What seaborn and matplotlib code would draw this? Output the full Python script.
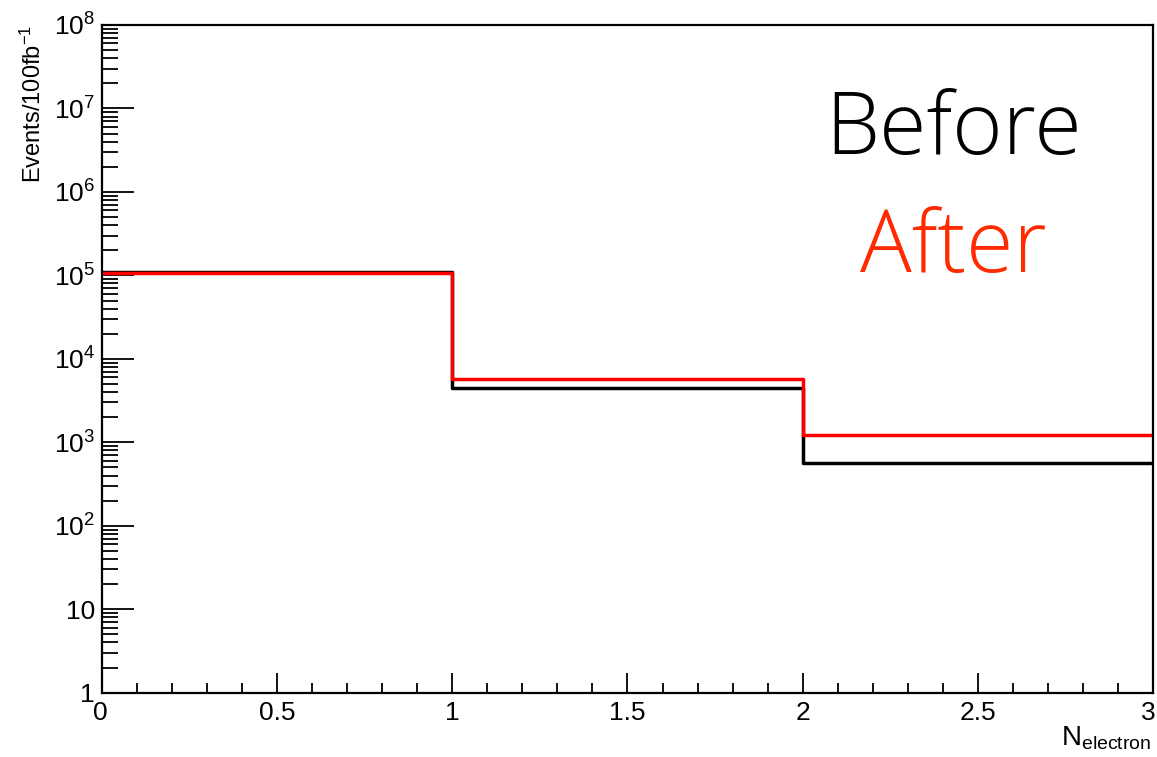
import numpy as np
import pandas as pd
import matplotlib
matplotlib.use("Agg")
import matplotlib.pyplot as plt
import matplotlib.ticker as mticker
import matplotlib.transforms as mtransforms
import seaborn as sns

# Data
bin_edges = [0, 1, 2, 3]
before_counts = [1.10e5, 4.5e3, 5.6e2]
after_counts = [1.07e5, 5.7e3, 1.22e3]
legend_labels = ["Before", "After"]

sns.set_theme(style="white")
plt.rcParams['font.family'] = ['Liberation Sans', 'DejaVu Sans']
plt.rcParams['mathtext.fontset'] = 'custom'
plt.rcParams['mathtext.rm'] = 'Liberation Sans'
plt.rcParams['mathtext.it'] = 'Liberation Sans'
plt.rcParams['text.color'] = 'black'
plt.rcParams['xtick.color'] = 'black'
plt.rcParams['ytick.color'] = 'black'

fig = plt.figure(figsize=(11.57, 7.57), dpi=100)
ax = fig.add_axes([0.0882, 0.0849, 0.9083, 0.8821])
ax.set_yscale('log')

def step_df(counts, name):
    return pd.DataFrame({"x": bin_edges,
                         "y": list(counts) + [counts[-1]],
                         "series": name})

df = pd.concat([step_df(before_counts, legend_labels[0]),
                step_df(after_counts, legend_labels[1])], ignore_index=True)

sns.lineplot(data=df, x="x", y="y", hue="series",
             palette={legend_labels[0]: "black", legend_labels[1]: "#ff0000"},
             drawstyle="steps-post", linewidth=2.5, legend=False, ax=ax,
             estimator=None, sort=False)

ax.set_xlim(0, 3)
ax.set_ylim(1, 1e8)

# Frame
for s in ax.spines.values():
    s.set_visible(True)
    s.set_color("black")
    s.set_linewidth(1.6)

# Ticks
ax.xaxis.set_major_locator(mticker.FixedLocator([0, 0.5, 1, 1.5, 2, 2.5, 3]))
ax.xaxis.set_minor_locator(mticker.MultipleLocator(0.1))
ax.yaxis.set_major_locator(mticker.LogLocator(base=10, numticks=20))
ax.yaxis.set_minor_locator(mticker.LogLocator(base=10, subs=np.arange(2, 10), numticks=20))

def yfmt(v, pos):
    if v <= 1.5:
        return "1"
    if v <= 15:
        return "10"
    e = int(round(np.log10(v)))
    return r"$\mathregular{10^{%d}}$" % e

def xfmt(v, pos):
    return ("%g" % v)

ax.yaxis.set_major_formatter(mticker.FuncFormatter(yfmt))
ax.xaxis.set_major_formatter(mticker.FuncFormatter(xfmt))

ax.tick_params(axis='y', which='major', direction='in', length=23, width=1.3,
               labelsize=19, pad=5, left=True, right=False, color='black',
               labelcolor='black')
ax.tick_params(axis='y', which='minor', direction='in', length=11.5, width=1.3,
               left=True, right=False, color='black')
ax.tick_params(axis='x', which='major', direction='in', length=14.4, width=1.3,
               labelsize=19, pad=6, bottom=True, top=False, color='black',
               labelcolor='black')
ax.tick_params(axis='x', which='minor', direction='in', length=7.2, width=1.3,
               bottom=True, top=False, color='black')

# nudge edge tick labels inward like the reference
fig.canvas.draw()
xlabels = ax.xaxis.get_majorticklabels()
xlabels[-1].set_transform(xlabels[-1].get_transform() +
                          mtransforms.ScaledTranslation(-5 / 100, 0, fig.dpi_scale_trans))
xlabels[0].set_transform(xlabels[0].get_transform() +
                         mtransforms.ScaledTranslation(-2 / 100, 0, fig.dpi_scale_trans))

ax.set_xlabel("")
ax.set_ylabel("")
fig.text(0.029, 0.967, r"Events/100fb$^{\mathregular{-1}}$", rotation=90,
         ha='center', va='top', fontsize=17)
fig.text(0.995, 0.006, r"N$_{\mathregular{electron}}$", ha='right', va='bottom',
         fontsize=20)

# Legend-like labels
ax.text(0.81, 0.840, legend_labels[0], transform=ax.transAxes, ha='center',
        va='center', fontsize=62, color='black', fontweight='light',
        family=['Open Sans', 'Noto Sans', 'DejaVu Sans'])
ax.text(0.81, 0.664, legend_labels[1], transform=ax.transAxes, ha='center',
        va='center', fontsize=62, color='#ff2a00', fontweight='light',
        family=['Open Sans', 'Noto Sans', 'DejaVu Sans'])

fig.savefig("out.png", dpi=100, facecolor='white')
